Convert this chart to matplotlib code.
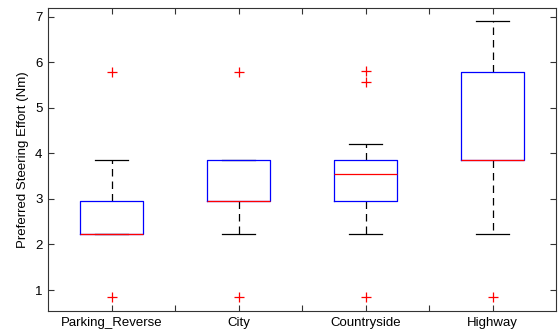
import matplotlib
matplotlib.use("Agg")
import matplotlib.pyplot as plt

categories = ["Parking_Reverse", "City", "Countryside", "Highway"]
q1 = [2.24, 2.95, 2.95, 3.86]
med = [2.24, 2.95, 3.55, 3.86]
q3 = [2.95, 3.86, 3.86, 5.78]
whislo = [2.24, 2.24, 2.24, 2.24]
whishi = [3.86, 3.86, 4.20, 6.91]
fliers = [[5.78, 0.85], [5.78, 0.85], [5.80, 5.57, 0.85], [0.85]]

plt.rcParams['font.family'] = ['Liberation Sans', 'DejaVu Sans']
fig = plt.figure(figsize=(5.58, 3.35), dpi=100)
ax = fig.add_axes([48/558, 1-311/335, (556-48)/558, (311-8)/335])

stats = []
for i in range(len(categories)):
    stats.append(dict(label=categories[i], q1=q1[i], med=med[i], q3=q3[i],
                      whislo=whislo[i], whishi=whishi[i], fliers=fliers[i]))

lw = 0.9
ax.bxp(stats, positions=range(1, len(categories)+1), widths=0.5, capwidths=0.26,
       boxprops=dict(color='#0000ff', linewidth=lw, zorder=3),
       medianprops=dict(color='#ff0000', linewidth=lw, zorder=4),
       whiskerprops=dict(color='black', linewidth=lw, linestyle=(0, (6, 4)), zorder=2),
       capprops=dict(color='black', linewidth=lw, zorder=2),
       flierprops=dict(marker='+', markeredgecolor='#ff0000', markersize=7, markeredgewidth=0.9, linestyle='none'))

ax.set_xlim(0.5, 4.5)
ax.set_ylim(0.54, 7.19)
ax.set_yticks([1, 2, 3, 4, 5, 6, 7])
ax.set_xticks([1, 2, 3, 4])
ax.set_xticklabels(categories)
ax.set_xticks([1.5, 2.5, 3.5], minor=True)
ax.tick_params(axis='both', which='both', direction='in', top=True, right=True,
               length=4, width=0.8, color='#333333', labelsize=9.5, pad=4)
ax.tick_params(axis='x', which='minor', length=4)
for s in ax.spines.values():
    s.set_color('#333333')
    s.set_linewidth(0.8)
ax.set_ylabel('Preferred Steering Effort (Nm)', fontsize=9.5)

fig.savefig('out.png', dpi=100)
